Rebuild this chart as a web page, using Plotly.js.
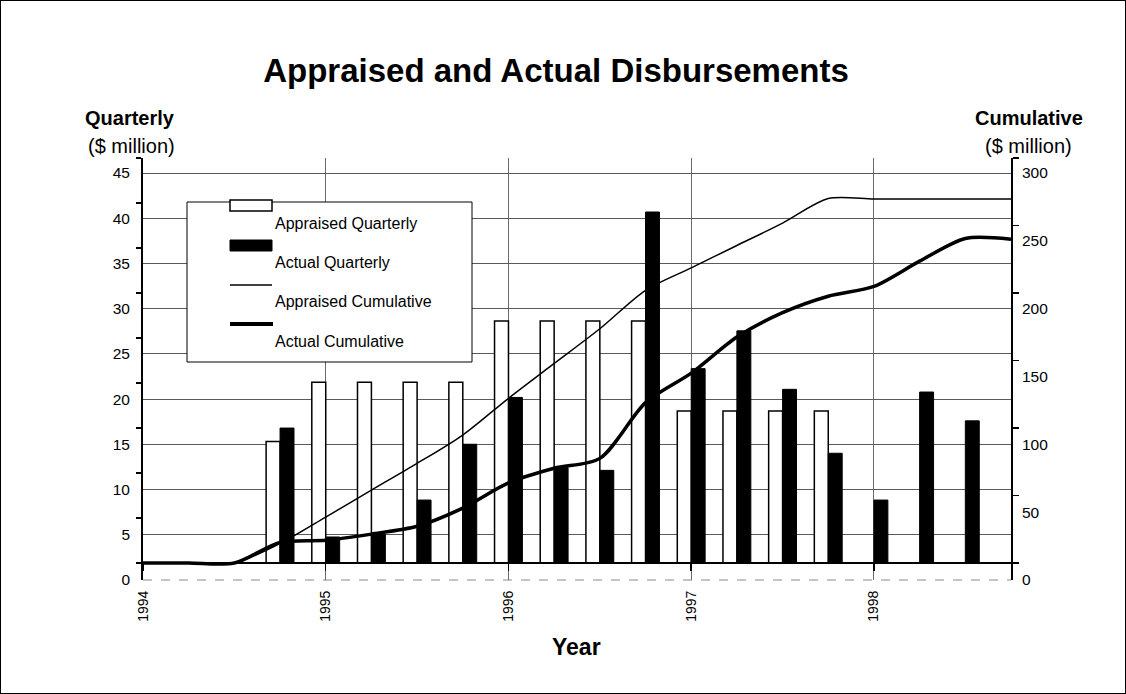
<!DOCTYPE html>
<html>
<head>
<meta charset="utf-8">
<script src="https://cdn.plot.ly/plotly-3.0.1.min.js"></script>
<style>
html,body{margin:0;padding:0;background:#fff;}
#wrap{position:relative;width:1126px;height:694px;}
#chart{width:1126px;height:694px;}
#frame{position:absolute;left:0;top:0;width:1126px;height:694px;box-sizing:border-box;border:1px solid #000;pointer-events:none;}
</style>
</head>
<body>
<div id="wrap"><div id="chart"></div><div id="frame"></div></div>
<script>
// ---- data ----
const yearTicks = [1994, 1995, 1996, 1997, 1998];
const yearLabels = ["1994", "1995", "1996", "1997", "1998"];

const appraisedQuarters = [1994.75, 1995, 1995.25, 1995.5, 1995.75, 1996, 1996.25, 1996.5, 1996.75, 1997, 1997.25, 1997.5, 1997.75];
const appraisedQuarterly = [13.5, 20.1, 20.1, 20.1, 20.1, 26.9, 26.9, 26.9, 26.9, 16.9, 16.9, 16.9, 16.9];

const actualQuarters = [1994.75, 1995, 1995.25, 1995.5, 1995.75, 1996, 1996.25, 1996.5, 1996.75, 1997, 1997.25, 1997.5, 1997.75, 1998, 1998.25, 1998.5];
const actualQuarterly = [15.0, 2.9, 3.2, 7.0, 13.2, 18.4, 10.6, 10.3, 39.0, 21.6, 25.8, 19.3, 12.2, 7.0, 19.0, 15.8];

const cumQuarters = [1994, 1994.25, 1994.5, 1994.75, 1995, 1995.25, 1995.5, 1995.75, 1996, 1996.25, 1996.5, 1996.75, 1997, 1997.25, 1997.5, 1997.75, 1998, 1998.25, 1998.5, 1998.75];
const appraisedCumulative = [0, 0, 0, 14.5, 34.0, 54.0, 73.8, 94.8, 122.0, 147.8, 173.5, 202.0, 218.6, 235.2, 251.8, 270.0, 269.6, 269.6, 269.6, 269.6];
const actualCumulative = [0, 0, 0, 15.3, 16.8, 21.4, 27.2, 40.7, 59.3, 70.2, 77.5, 118.8, 140.6, 167.4, 185.4, 197.6, 204.9, 223.6, 240.4, 239.8];

const legendLabels = ["Appraised Quarterly", "Actual Quarterly", "Appraised Cumulative", "Actual Cumulative"];

// ---- layout helpers (pixel -> paper) ----
const L = 143, R = 1011, T = 158, B = 580;
const px = x => (x - L) / (R - L);
const py = y => (B - y) / (B - T);
const FONT = "Liberation Sans, Arial, Helvetica, sans-serif";

const traces = [
  {type: "bar", name: legendLabels[0], x: appraisedQuarters, y: appraisedQuarterly, xaxis: "x", yaxis: "y",
   marker: {color: "#ffffff", line: {color: "#000000", width: 1.5}}},
  {type: "bar", name: legendLabels[1], x: actualQuarters, y: actualQuarterly, xaxis: "x", yaxis: "y",
   marker: {color: "#000000", line: {color: "#000000", width: 1}}},
  {type: "scatter", mode: "lines", name: legendLabels[2], x: cumQuarters, y: appraisedCumulative, xaxis: "x", yaxis: "y2",
   line: {color: "#000000", width: 1.5, shape: "spline", smoothing: 0.8}},
  {type: "scatter", mode: "lines", name: legendLabels[3], x: cumQuarters, y: actualCumulative, xaxis: "x", yaxis: "y2",
   line: {color: "#000000", width: 3.5, shape: "spline", smoothing: 0.8}},
  // empty traces so that the labelled scale axes are created
  {type: "scatter", mode: "lines", x: [], y: [], xaxis: "x", yaxis: "y3", hoverinfo: "skip"},
  {type: "scatter", mode: "lines", x: [], y: [], xaxis: "x", yaxis: "y4", hoverinfo: "skip"}
];

const legendShapes = [
  {type: "rect", xref: "paper", yref: "paper", x0: px(187), x1: px(472), y0: py(202), y1: py(362),
   fillcolor: "#ffffff", line: {color: "#000", width: 1}, layer: "above"},
  {type: "rect", xref: "paper", yref: "paper", x0: px(230), x1: px(272), y0: py(200), y1: py(211),
   fillcolor: "#ffffff", line: {color: "#000", width: 1.5}, layer: "above"},
  {type: "rect", xref: "paper", yref: "paper", x0: px(230), x1: px(272), y0: py(240), y1: py(251),
   fillcolor: "#000000", line: {color: "#000", width: 1}, layer: "above"},
  {type: "line", xref: "paper", yref: "paper", x0: px(230), x1: px(272), y0: py(285), y1: py(285),
   line: {color: "#000", width: 1.5}, layer: "above"},
  {type: "line", xref: "paper", yref: "paper", x0: px(230), x1: px(273), y0: py(324), y1: py(324),
   line: {color: "#000", width: 4}, layer: "above"}
];
const legendY = [223, 262, 301, 341];
const legendAnn = legendLabels.map((t, i) => ({
  text: t, xref: "paper", yref: "paper", x: px(273), y: py(legendY[i]), xanchor: "left", yanchor: "middle",
  showarrow: false, font: {family: FONT, size: 16, color: "#000"}
}));

const layout = {
  width: 1126, height: 694,
  margin: {l: L, r: 1126 - R, t: T, b: 694 - B, pad: 0},
  paper_bgcolor: "#ffffff", plot_bgcolor: "#ffffff",
  showlegend: false,
  barmode: "group", bargap: 0.39, bargroupgap: 0,
  font: {family: FONT, color: "#000"},
  title: {text: "<b>Appraised and Actual Disbursements</b>", font: {family: FONT, size: 33, color: "#000"},
          xref: "container", yref: "container", x: 556 / 1126, y: 1 - 70 / 694, xanchor: "center", yanchor: "middle"},
  xaxis: {range: [1994, 1998.75], anchor: "free", position: py(563),
          tickmode: "array", tickvals: yearTicks, ticktext: yearLabels, tickangle: -90,
          ticks: "outside", ticklen: 7, tickwidth: 1.5, tickcolor: "#000",
          showline: true, linecolor: "#000", linewidth: 2,
          showgrid: true, gridcolor: "#6a6a6a", gridwidth: 1, zeroline: false,
          tickfont: {family: FONT, size: 14, color: "#000"}, ticklabelstandoff: 14},
  // bar scale (data), left
  yaxis: {anchor: "x", side: "left", range: [-1.88, 45], tickmode: "linear", tick0: 0, dtick: 5,
          showgrid: false, zeroline: true, zerolinecolor: "#000", zerolinewidth: 2,
          showline: true, linecolor: "#000", linewidth: 2, ticks: "outside", ticklen: 5, tickwidth: 1.5, tickcolor: "#000",
          showticklabels: false},
  // cumulative scale (data), right
  yaxis2: {overlaying: "y", side: "right", anchor: "x", range: [-17 / 1.35, 300], tickmode: "linear", tick0: 0, dtick: 50,
           showgrid: false, zeroline: false, showline: true, linecolor: "#000", linewidth: 2,
           ticks: "outside", ticklen: 6, tickwidth: 1.5, tickcolor: "#000", showticklabels: false},
  // labelled quarterly scale, left
  yaxis3: {overlaying: "y", side: "left", anchor: "x", range: [0, 45 * (B - T) / 407], tickmode: "linear", tick0: 0, dtick: 5,
           showgrid: true, gridcolor: "#5a5a5a", gridwidth: 1, showline: false, ticks: "", zeroline: false,
           tickfont: {family: FONT, size: 15.5, color: "#000"}, ticklabelstandoff: 12},
  // labelled cumulative scale, right
  yaxis4: {overlaying: "y", side: "right", anchor: "x", range: [0, 300 * (B - T) / 407], tickmode: "linear", tick0: 0, dtick: 50,
           showgrid: false, showline: false, ticks: "", zeroline: false,
           tickfont: {family: FONT, size: 15.5, color: "#000"}, ticklabelstandoff: 10},
  shapes: [
    {type: "line", xref: "paper", yref: "paper", x0: 0, x1: 1, y0: 0, y1: 0,
     line: {color: "#8a8a8a", width: 1, dash: "dash"}, layer: "below"}
  ].concat(legendShapes),
  annotations: [
    {text: "<b>Quarterly</b>", xref: "paper", yref: "paper", x: px(130), y: py(118), xanchor: "center", yanchor: "middle",
     showarrow: false, font: {family: FONT, size: 20, color: "#000"}},
    {text: "($ million)", xref: "paper", yref: "paper", x: px(131), y: py(146), xanchor: "center", yanchor: "middle",
     showarrow: false, font: {family: FONT, size: 20, color: "#000"}},
    {text: "<b>Cumulative</b>", xref: "paper", yref: "paper", x: px(1029), y: py(118), xanchor: "center", yanchor: "middle",
     showarrow: false, font: {family: FONT, size: 20, color: "#000"}},
    {text: "($ million)", xref: "paper", yref: "paper", x: px(1028), y: py(146), xanchor: "center", yanchor: "middle",
     showarrow: false, font: {family: FONT, size: 20, color: "#000"}},
    {text: "<b>Year</b>", xref: "paper", yref: "paper", x: px(576), y: py(647), xanchor: "center", yanchor: "middle",
     showarrow: false, font: {family: FONT, size: 23, color: "#000"}}
  ].concat(legendAnn)
};

Plotly.newPlot("chart", traces, layout, {staticPlot: true, displayModeBar: false});
</script>
</body>
</html>
